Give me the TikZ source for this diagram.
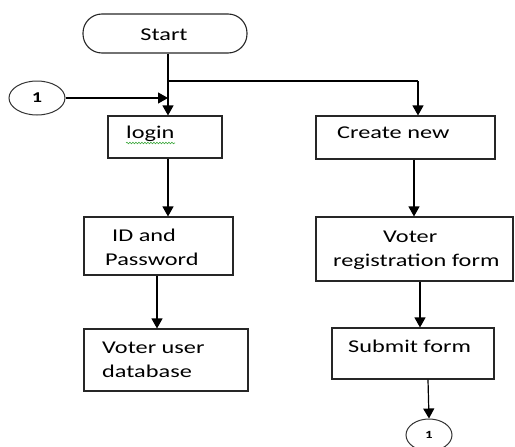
\documentclass[tikz,border=0pt]{standalone}
\usepackage{fontspec}
\setmainfont{Carlito}[FakeStretch=1.35]
\usetikzlibrary{arrows.meta,shapes.geometric,decorations.pathmorphing}
\begin{document}
\begin{tikzpicture}[x=1pt,y=-1pt,
  flow/.style={draw=black, line width=1.2pt},
  arr/.style={flow, -{Triangle[width=11pt,length=10pt]}},
  box/.style={draw=black!85, line width=1.1pt, rectangle, inner sep=0pt},
  term/.style={box, rounded corners=19pt},
  conn/.style={ellipse, draw=black!80, line width=1pt, inner sep=0pt},
  lbl/.style={font=\fontsize{18}{24}\selectfont, text=black, inner sep=0pt, align=left},
]
\useasboundingbox (0,0) rectangle (515,447);
% shapes
\node[term, minimum width=164pt, minimum height=39pt] (start) at (165,33.5) {};
\node[lbl, anchor=base] (tstart) at (164,40) {Start};
\node[conn, minimum width=56pt, minimum height=34pt, font=\fontsize{15}{15}\selectfont\bfseries] (c1) at (37,98) {1};
\node[box, minimum width=114pt, minimum height=42pt] (login) at (165,137) {};
\node[lbl, anchor=base west] (tlogin) at (126,138) {login};
\node[box, minimum width=179pt, minimum height=43pt] (create) at (405.5,137.5) {};
\node[lbl, anchor=base west] (tcreate) at (337,138) {Create new};
\node[box, minimum width=149pt, minimum height=58pt] (idpw) at (158.5,246) {};
\node[lbl, anchor=base west] (tidpw) at (105,265) {\hspace*{7pt}ID and\\Password};
\node[box, minimum width=197pt, minimum height=64pt] (vreg) at (414.5,249) {};
\node[lbl, anchor=base west] (tvreg) at (333,266) {\hspace*{50pt}Voter\\registration form};
\node[box, minimum width=164pt, minimum height=62pt] (vdb) at (166,360) {};
\node[lbl, anchor=base west] (tvdb) at (102,377) {Voter user\\database};
\node[box, minimum width=162pt, minimum height=51pt] (submit) at (413,353.5) {};
\node[lbl, anchor=base west] (tsubmit) at (348,352) {Submit form};
\node[conn, minimum width=46pt, minimum height=32pt, font=\fontsize{11}{11}\selectfont\bfseries] (c2) at (429,435) {1};
% spell-check underline
\draw[green!55!black!75, line width=0.6pt, decorate, decoration={snake, amplitude=0.8pt, segment length=3pt}] (126,143) -- (175,143);
% connectors
\coordinate (j1) at (168,81);
\coordinate (j2) at (418,81);
\draw[arr] (start.south -| j1) -- (login.north -| j1);
\draw[flow] (j1) -- (j2);
\draw[arr] (j2) -- (create.north -| j2);
\draw[arr] (c1.east) -- (c1.east -| j1);
\draw[arr] (login.south -| j1) -- (idpw.north -| j1);
\draw[arr] ([xshift=-1.5pt]idpw.south) -- ([xshift=-1.5pt]idpw.south |- vdb.north);
\draw[arr] ([xshift=8.5pt]create.south) -- ([xshift=8.5pt]create.south |- vreg.north);
\draw[arr] ([xshift=5.5pt]vreg.south) -- ([xshift=5.5pt]vreg.south |- submit.north);
\draw[arr] ([xshift=15pt]submit.south) -- (c2.north);
\end{tikzpicture}
\end{document}
